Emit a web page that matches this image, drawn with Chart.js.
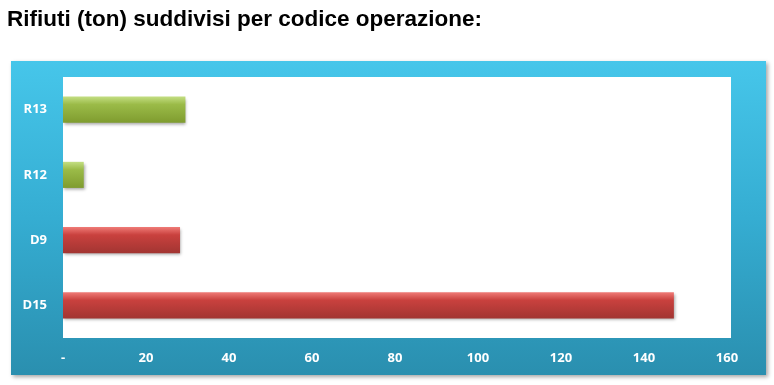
<!DOCTYPE html>
<html>
<head>
<meta charset="utf-8">
<script src="https://cdn.jsdelivr.net/npm/chart.js@4"></script>
<style>
  html, body { margin: 0; padding: 0; background: #fff; }
  #wrap { width: 774px; height: 385px; position: relative; }
</style>
</head>
<body>
<div id="wrap"><canvas id="opChart"></canvas></div>
<script>
// codici operazione, dal basso verso l'alto come nel grafico
const categories = ['R13', 'R12', 'D9', 'D15'];
const tonValues = [29.5, 5, 28.2, 147.2];
const barKinds = ['R', 'R', 'D', 'D'];
const xTicks = [0, 20, 40, 60, 80, 100, 120, 140, 160];

const palette = {
  R: ['#c3de82', '#9bbb48', '#7f9c2f'],
  D: ['#ef7a76', '#c9413e', '#a23532']
};

function barFill(context) {
  const chart = context.chart;
  const kind = barKinds[context.dataIndex] || 'D';
  const yScale = chart.scales.y;
  if (!yScale || !chart.chartArea) return palette[kind][1];
  const cy = yScale.getPixelForValue(context.dataIndex);
  const half = 13;
  const g = chart.ctx.createLinearGradient(0, cy - half, 0, cy + half);
  g.addColorStop(0, palette[kind][0]);
  g.addColorStop(0.3, palette[kind][1]);
  g.addColorStop(1, palette[kind][2]);
  return g;
}

// cornice azzurra dietro l'area del grafico
const framePlugin = {
  id: 'frame',
  beforeDraw(chart) {
    const { ctx, chartArea } = chart;
    const left = chartArea.left - 52, top = chartArea.top - 16;
    const right = chartArea.right + 39, bottom = chartArea.bottom + 37;
    ctx.save();
    ctx.shadowColor = 'rgba(0,0,0,0.35)';
    ctx.shadowBlur = 4;
    ctx.shadowOffsetX = 2;
    ctx.shadowOffsetY = 2;
    const g = ctx.createLinearGradient(0, top, 0, bottom);
    g.addColorStop(0, '#46c6ea');
    g.addColorStop(0.5, '#35add2');
    g.addColorStop(1, '#2a8faf');
    ctx.fillStyle = g;
    ctx.fillRect(left, top, right - left, bottom - top);
    ctx.restore();
    ctx.save();
    ctx.fillStyle = '#ffffff';
    ctx.fillRect(chartArea.left, chartArea.top, chartArea.right - chartArea.left + 4, chartArea.bottom - chartArea.top);
    ctx.restore();
  },
  beforeDatasetsDraw(chart) {
    const ctx = chart.ctx;
    ctx.save();
    ctx.shadowColor = 'rgba(0,0,0,0.35)';
    ctx.shadowBlur = 3;
    ctx.shadowOffsetX = 1;
    ctx.shadowOffsetY = 2;
  },
  afterDatasetsDraw(chart) {
    chart.ctx.restore();
  }
};

const ctx = document.getElementById('opChart').getContext('2d');
new Chart(ctx, {
  type: 'bar',
  data: {
    labels: categories,
    datasets: [{
      data: tonValues,
      backgroundColor: barFill,
      borderWidth: 0,
      categoryPercentage: 0.8,
      barPercentage: 0.5
    }]
  },
  options: {
    indexAxis: 'y',
    responsive: true,
    maintainAspectRatio: false,
    animation: false,
    layout: { padding: { left: 7, right: 47, top: 0, bottom: 10 } },
    plugins: {
      legend: { display: false },
      tooltip: { enabled: false },
      title: {
        display: true,
        text: 'Rifiuti (ton) suddivisi per codice operazione:',
        align: 'start',
        color: '#000',
        font: { family: 'Liberation Sans', size: 22.5, weight: 'bold', lineHeight: 1.2 },
        padding: { top: 6, bottom: 44 }
      }
    },
    scales: {
      x: {
        min: 0,
        max: 160,
        afterBuildTicks: axis => { axis.ticks = xTicks.map(v => ({ value: v })); },
        afterFit: axis => { axis.height = 37; },
        grid: { display: false, drawTicks: false },
        border: { display: false },
        ticks: {
          color: '#ffffff',
          padding: 12,
          font: { family: 'Open Sans', size: 13, weight: 'bold' },
          callback: v => v === 0 ? '-' : v
        }
      },
      y: {
        afterFit: axis => { axis.width = 56; },
        grid: { display: false, drawTicks: false },
        border: { display: false },
        ticks: {
          color: '#ffffff',
          padding: 16,
          font: { family: 'Open Sans', size: 13, weight: 'bold' }
        }
      }
    }
  },
  plugins: [framePlugin]
});
</script>
</body>
</html>
